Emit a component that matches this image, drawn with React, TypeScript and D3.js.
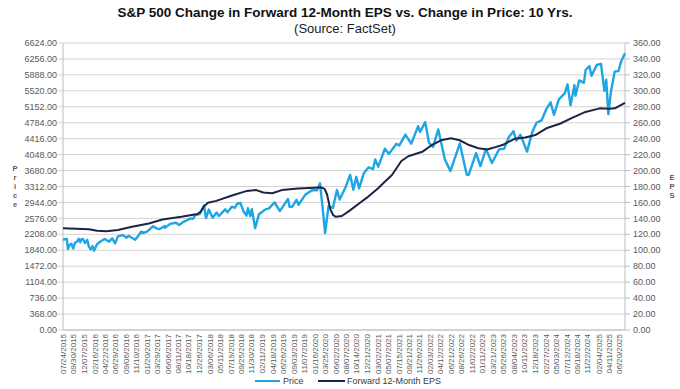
import React from "react"
import * as d3 from "d3"

// values (price in index points, EPS in $)
const priceDates = [
  "2015-07-24", "2015-08-05", "2015-08-18", "2015-08-25", "2015-09-02", "2015-09-16", "2015-09-29", "2015-10-09",
  "2015-10-20", "2015-11-03", "2015-11-13", "2015-11-20", "2015-12-01", "2015-12-14", "2015-12-29", "2016-01-08",
  "2016-01-20", "2016-02-01", "2016-02-11", "2016-03-01", "2016-03-31", "2016-04-20", "2016-05-19", "2016-06-08",
  "2016-06-27", "2016-07-15", "2016-08-15", "2016-09-09", "2016-09-22", "2016-10-14", "2016-11-04", "2016-11-30",
  "2016-12-13", "2016-12-30", "2017-01-20", "2017-03-01", "2017-03-27", "2017-04-13", "2017-05-15", "2017-05-17",
  "2017-06-19", "2017-07-27", "2017-08-18", "2017-09-11", "2017-09-29", "2017-10-31", "2017-11-15", "2017-11-30",
  "2017-12-29", "2018-01-26", "2018-02-08", "2018-02-26", "2018-03-23", "2018-04-18", "2018-05-03", "2018-06-12",
  "2018-06-28", "2018-07-25", "2018-08-15", "2018-08-29", "2018-09-20", "2018-10-11", "2018-10-29", "2018-11-07",
  "2018-11-23", "2018-12-03", "2018-12-24", "2019-01-18", "2019-03-04", "2019-03-22", "2019-04-30", "2019-06-03",
  "2019-07-26", "2019-08-05", "2019-08-23", "2019-09-19", "2019-10-02", "2019-11-15", "2019-12-31", "2020-01-31",
  "2020-02-19", "2020-03-09", "2020-03-23", "2020-04-14", "2020-05-13", "2020-06-08", "2020-06-26", "2020-07-31",
  "2020-09-02", "2020-09-23", "2020-10-12", "2020-10-30", "2020-11-30", "2020-12-31", "2021-01-29", "2021-02-12",
  "2021-03-04", "2021-04-16", "2021-05-12", "2021-06-30", "2021-07-19", "2021-08-27", "2021-10-04", "2021-11-18",
  "2021-11-30", "2022-01-03", "2022-01-27", "2022-02-23", "2022-03-29", "2022-05-11", "2022-06-16", "2022-08-16",
  "2022-09-30", "2022-10-12", "2022-11-30", "2022-12-28", "2023-02-02", "2023-03-13", "2023-04-28", "2023-05-31",
  "2023-06-30", "2023-07-31", "2023-08-18", "2023-09-14", "2023-10-27", "2023-11-30", "2023-12-28", "2024-01-31",
  "2024-02-29", "2024-03-28", "2024-04-19", "2024-05-21", "2024-06-28", "2024-07-16", "2024-08-05", "2024-08-30",
  "2024-09-06", "2024-09-30", "2024-10-31", "2024-11-11", "2024-12-06", "2024-12-19", "2025-01-23", "2025-02-19",
  "2025-03-13", "2025-03-25", "2025-04-08", "2025-04-24", "2025-05-19", "2025-06-13", "2025-06-30", "2025-07-25",
]
const priceValues = [
  2080, 2095, 2100, 1870, 1950, 1990, 1880, 2010,
  2030, 2105, 2025, 2090, 2100, 2010, 2080, 1925,
  1860, 1940, 1830, 1980, 2060, 2100, 2040, 2115,
  2000, 2160, 2190, 2130, 2175, 2130, 2085, 2200,
  2270, 2240, 2270, 2395, 2340, 2330, 2400, 2357,
  2450, 2475, 2425, 2490, 2520, 2575, 2565, 2650,
  2673, 2872, 2581, 2780, 2590, 2710, 2630, 2785,
  2715, 2845, 2820, 2915, 2930, 2730, 2640, 2810,
  2630, 2790, 2350, 2670, 2790, 2800, 2945, 2745,
  3025, 2845, 2850, 3005, 2890, 3120, 3230, 3225,
  3386, 2750, 2237, 2850, 2820, 3230, 3010, 3270,
  3580, 3240, 3535, 3270, 3620, 3756, 3714, 3935,
  3770, 4185, 4065, 4300, 4260, 4510, 4300, 4705,
  4570, 4797, 4326, 4225, 4630, 3935, 3667, 4305,
  3585, 3577, 4080, 3783, 4180, 3855, 4170, 4180,
  4450, 4590, 4370, 4505, 4117, 4568, 4783, 4845,
  5096, 5254, 4967, 5321, 5460, 5667, 5186, 5648,
  5408, 5762, 5705, 6001, 6090, 5867, 6119, 6144,
  5522, 5776, 4982, 5485, 5963, 5977, 6205, 6388,
]

const epsDates = [
  "2015-07-24", "2015-10-15", "2016-01-10", "2016-03-01", "2016-05-01", "2016-07-15", "2016-10-15", "2017-02-01",
  "2017-05-01", "2017-09-01", "2017-12-15", "2018-01-05", "2018-01-25", "2018-02-20", "2018-04-15", "2018-08-01",
  "2018-11-01", "2019-01-01", "2019-02-15", "2019-04-15", "2019-06-15", "2019-10-01", "2020-01-15", "2020-02-25",
  "2020-03-20", "2020-04-05", "2020-04-25", "2020-05-15", "2020-06-01", "2020-07-10", "2020-09-01", "2020-11-01",
  "2020-12-20", "2021-03-01", "2021-04-15", "2021-06-01", "2021-08-01", "2021-09-15", "2021-12-15", "2022-02-15",
  "2022-04-15", "2022-06-20", "2022-08-15", "2022-10-15", "2022-12-15", "2023-02-10", "2023-03-20", "2023-05-20",
  "2023-08-10", "2023-10-15", "2023-12-20", "2024-03-01", "2024-06-01", "2024-08-15", "2024-11-10", "2025-02-10",
  "2025-04-15", "2025-05-20", "2025-07-25",
]
const epsValues = [
  127.5, 127, 126.5, 124.5, 124, 125.5, 129.5, 133.5,
  138.5, 142, 145.5, 148.5, 155, 159.5, 162, 169,
  174.5, 175.5, 172.5, 171.5, 175.5, 177.5, 178.5, 179,
  177, 170, 152, 144, 142, 143, 150, 159,
  166, 177.5, 186, 194.5, 212, 218, 223.5, 232,
  238, 240.5, 238, 232, 228, 226.5, 228.5, 232,
  240, 241.5, 244.5, 253, 259, 266, 273.5, 278,
  277.5, 278, 285,
]

const xLabels = [
  "07/24/2015", "09/30/2015", "12/07/2015", "02/16/2016", "04/22/2016", "06/29/2016", "09/06/2016", "11/10/2016",
  "01/20/2017", "03/29/2017", "06/06/2017", "08/11/2017", "10/18/2017", "12/26/2017", "03/06/2018", "05/11/2018",
  "07/19/2018", "09/25/2018", "11/30/2018", "02/11/2019", "04/18/2019", "06/26/2019", "09/03/2019", "11/07/2019",
  "01/16/2020", "03/25/2020", "06/02/2020", "08/07/2020", "10/14/2020", "12/21/2020", "03/02/2021", "05/07/2021",
  "07/15/2021", "09/21/2021", "11/26/2021", "02/03/2022", "04/12/2022", "06/21/2022", "08/26/2022", "11/02/2022",
  "01/11/2023", "03/21/2023", "05/26/2023", "08/04/2023", "10/11/2023", "12/18/2023", "02/27/2024", "05/03/2024",
  "07/12/2024", "09/18/2024", "11/22/2024", "02/04/2025", "04/11/2025", "06/20/2025",
]

const priceTicks = [0, 368, 736, 1104, 1472, 1840, 2208, 2576, 2944, 3312, 3680, 4048, 4416, 4784, 5152, 5520, 5888, 6256, 6624]
const epsTicks = [0, 20, 40, 60, 80, 100, 120, 140, 160, 180, 200, 220, 240, 260, 280, 300, 320, 340, 360]

const W = 680
const H = 389
const left = 63
const right = 625
const top = 43
const bottom = 330

const parse = d3.timeParse("%Y-%m-%d")
const parseLabel = d3.timeParse("%m/%d/%Y")

const PRICE_COLOR = "#1ea5e3"
const EPS_COLOR = "#1c2447"
const TEXT = "#595959"
const FONT = "'Liberation Sans', Arial, sans-serif"

export default function App() {
  const x = d3.scaleTime()
    .domain([parse("2015-07-24") as Date, parse("2025-07-25") as Date])
    .range([left, right])
  const yPrice = d3.scaleLinear().domain([0, 6624]).range([bottom, top])
  const yEps = d3.scaleLinear().domain([0, 360]).range([bottom, top])

  const price = priceDates.map((d, i) => ({ date: parse(d) as Date, v: priceValues[i] }))
  const eps = epsDates.map((d, i) => ({ date: parse(d) as Date, v: epsValues[i] }))

  const priceLine = d3.line<{ date: Date; v: number }>()
    .x(d => x(d.date))
    .y(d => yPrice(d.v))
  const epsLine = d3.line<{ date: Date; v: number }>()
    .x(d => x(d.date))
    .y(d => yEps(d.v))

  return (
    <svg width={W} height={H} style={{ position: "absolute", left: 0, top: 0, background: "#fff" }} fontFamily={FONT}>
      {/* title */}
      <text x={345} y={17} textAnchor="middle" fontSize={13.5} fontWeight="bold" fill="#111">
        S&amp;P 500 Change in Forward 12-Month EPS vs. Change in Price: 10 Yrs.
      </text>
      <text x={345} y={33} textAnchor="middle" fontSize={13} fill="#222">
        (Source: FactSet)
      </text>

      {/* grid + ticks */}
      {priceTicks.map(t => (
        <g key={"p" + t}>
          <line x1={left - 5} x2={right} y1={yPrice(t)} y2={yPrice(t)} stroke="#d4d4d4" strokeWidth={1} />
          <text x={57} y={yPrice(t)} dy="0.35em" textAnchor="end" fontSize={9} fill={TEXT}>
            {d3.format(".2f")(t)}
          </text>
        </g>
      ))}
      {epsTicks.map(t => (
        <g key={"e" + t}>
          <line x1={right} x2={right + 5} y1={yEps(t)} y2={yEps(t)} stroke="#bdbdbd" strokeWidth={1} />
          <text x={633} y={yEps(t)} dy="0.35em" textAnchor="start" fontSize={9} fill={TEXT}>
            {d3.format(".2f")(t)}
          </text>
        </g>
      ))}
      <line x1={left} x2={left} y1={top} y2={bottom} stroke="#bdbdbd" />
      <line x1={right} x2={right} y1={top} y2={bottom} stroke="#bdbdbd" />
      <line x1={left} x2={right} y1={bottom} y2={bottom} stroke="#bdbdbd" />

      {/* axis titles, stacked letters */}
      {"Price".split("").map((c, i) => (
        <text key={"pt" + i} x={15} y={171 + i * 9} textAnchor="middle" fontSize={7.5} fontWeight="bold" fill={TEXT}>{c}</text>
      ))}
      {"EPS".split("").map((c, i) => (
        <text key={"et" + i} x={672} y={180 + i * 9} textAnchor="middle" fontSize={7.5} fontWeight="bold" fill={TEXT}>{c}</text>
      ))}

      {/* x labels */}
      {xLabels.map(l => {
        const px = x(parseLabel(l) as Date)
        return (
          <text key={l} transform={`translate(${px},${334}) rotate(-90)`} dy="0.35em" textAnchor="end" fontSize={8} fill={TEXT}>
            {l}
          </text>
        )
      })}

      {/* series */}
      <path d={priceLine(price) || ""} fill="none" stroke={PRICE_COLOR} strokeWidth={2.4} strokeLinejoin="round" />
      <path d={epsLine(eps) || ""} fill="none" stroke={EPS_COLOR} strokeWidth={2} strokeLinejoin="round" />

      {/* legend */}
      <line x1={255} x2={280} y1={381} y2={381} stroke={PRICE_COLOR} strokeWidth={2} />
      <text x={283} y={381} dy="0.35em" fontSize={9} fill="#404040">Price</text>
      <line x1={318} x2={345} y1={381} y2={381} stroke={EPS_COLOR} strokeWidth={2} />
      <text x={347} y={381} dy="0.35em" fontSize={9} fill="#404040">Forward 12-Month EPS</text>
    </svg>
  )
}
